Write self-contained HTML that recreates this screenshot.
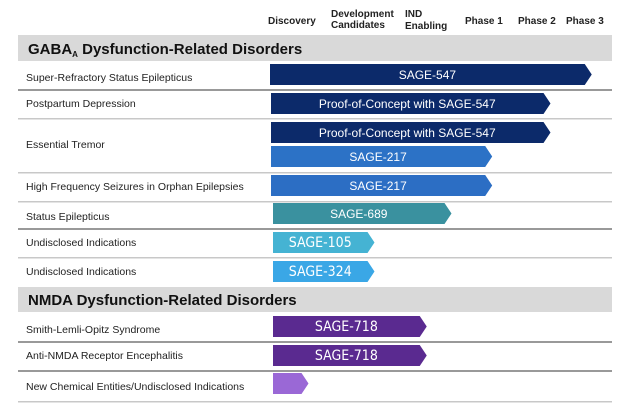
<!DOCTYPE html>
<html><head><meta charset="utf-8"><style>
html,body{margin:0;padding:0;background:#fff;}
svg{display:block;font-family:"Liberation Sans",Arial,sans-serif;}
</style></head><body>
<svg id="chart" width="625" height="415" viewBox="0 0 625 415">
<g font-size="10" font-weight="bold" fill="#222">
<text x="268" y="24">Discovery</text>
<text x="331" y="17"><tspan x="331">Development</tspan><tspan x="331" dy="11">Candidates</tspan></text>
<text x="405" y="17"><tspan x="405">IND</tspan><tspan x="405" dy="12">Enabling</tspan></text>
<text x="465" y="24">Phase 1</text>
<text x="518" y="24">Phase 2</text>
<text x="566" y="24">Phase 3</text>
</g>
<rect x="18" y="35" width="594" height="26" fill="#d9d9d9"/>
<text x="28" y="54" font-size="15" font-weight="bold" fill="#111">GABA<tspan font-size="8" dy="3">A</tspan><tspan dy="-3"> Dysfunction-Related Disorders</tspan></text>
<rect x="18" y="287" width="594" height="25" fill="#d9d9d9"/>
<text x="28" y="305" font-size="15" font-weight="bold" fill="#111">NMDA Dysfunction-Related Disorders</text>
<g id="rows"></g>
<g id="bars"></g>
</svg>
<script>
// Stage scale: 0 = start of Discovery, 6 = end of Phase 3
const barLabels = ["SAGE-547","Proof-of-Concept with SAGE-547","Proof-of-Concept with SAGE-547","SAGE-217","SAGE-217","SAGE-689","SAGE-105","SAGE-324","SAGE-718","SAGE-718",""];
const barProgress = [5.85,5.1,5.1,4.04,4.04,3.3,1.9,1.9,2.85,2.85,0.7];
const indications = ["Super-Refractory Status Epilepticus","Postpartum Depression","Essential Tremor","High Frequency Seizures in Orphan Epilepsies","Status Epilepticus","Undisclosed Indications","Undisclosed Indications","Smith-Lemli-Opitz Syndrome","Anti-NMDA Receptor Encephalitis","New Chemical Entities/Undisclosed Indications"];

const xs = v => 270 + v * 55;
const barTops = [64,93,122,146,175,203,232,261,316,345,373];
const barStarts = [270,271,271,271,271,273,273,273,273,273,273];
const colors = ["#0c2a6a","#0c2a6a","#0c2a6a","#2c72c6","#2c6ec4","#3a919f","#45b3d3","#3aa7e6","#5a2a90","#5a2a90","#9a68d6"];
const fontFam = [0,0,0,0,0,0,1,1,1,1,1];
const labelY = [81,107,148,190,220,246,275,333,359,390];
const lineY = [89,118,172,201,228,257,0,341,370,401];
const ns = "http://www.w3.org/2000/svg";
const rows = document.getElementById("rows");
const bars = document.getElementById("bars");
indications.forEach((t,i)=>{
  const tx = document.createElementNS(ns,"text");
  tx.setAttribute("x",26); tx.setAttribute("y",labelY[i]);
  tx.setAttribute("font-size","10.5"); tx.setAttribute("fill","#222");
  tx.textContent = t;
  
  
  rows.appendChild(tx);
  if (lineY[i]) {
    const ln = document.createElementNS(ns,"rect");
    ln.setAttribute("x",18); ln.setAttribute("y",lineY[i]); ln.setAttribute("width",594);
    ln.setAttribute("height",(i===0||i===4||i===7||i===8)?2:1.5);
    ln.setAttribute("fill",(i===0||i===4||i===7||i===8)?"#999":"#c8c8c8");
    
    
    rows.appendChild(ln);
  }
});
barProgress.forEach((v,i)=>{
  const x0 = barStarts[i], x1 = xs(v), y0 = barTops[i], h = 21, tip = 7;
  const p = document.createElementNS(ns,"polygon");
  p.setAttribute("points",`${x0},${y0} ${x1-tip},${y0} ${x1},${y0+h/2} ${x1-tip},${y0+h} ${x0},${y0+h}`);
  p.setAttribute("fill",colors[i]);
  
  
  bars.appendChild(p);
  if (barLabels[i]) {
    const t = document.createElementNS(ns,"text");
    t.setAttribute("x",(x0+x1-tip)/2); t.setAttribute("y",y0+15);
    t.setAttribute("text-anchor","middle"); t.setAttribute("fill","#fff");
    t.setAttribute("font-size",fontFam[i]?"14":"12");
    if (fontFam[i]) t.setAttribute("font-family","'DejaVu Sans Condensed','Liberation Sans',sans-serif");
    t.textContent = barLabels[i];
    
    
    bars.appendChild(t);
  }
});
</script>
</body></html>
